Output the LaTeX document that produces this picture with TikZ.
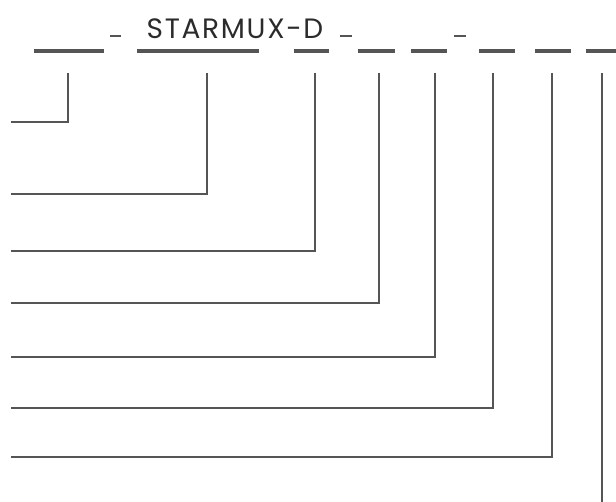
\documentclass[tikz,border=0pt]{standalone}
\usepackage{fontspec}
\setmainfont{Poppins}
\newfontfamily\titlefont{Poppins}[LetterSpace=6]
\definecolor{linegray}{HTML}{555555}
\definecolor{textgray}{HTML}{2B2B2B}
\begin{document}
\begin{tikzpicture}[x=0.75pt,y=-0.75pt,
  bar/.style={draw=linegray,line width=3pt},
  sep/.style={draw=linegray,line width=0.9pt},
  lead/.style={draw=linegray,line width=2.2pt}]
\useasboundingbox (0,0) rectangle (616,502);
\node[anchor=base,text=textgray,font=\titlefont\fontsize{21}{25}\selectfont,inner sep=0pt] (title) at (235,38.5) {STARMUX-D};
% top bars
\foreach \i/\a/\b in {1/34/104,2/137/259,3/294/329,4/358/395,5/411/447,6/479/515,7/535/571,8/586/616}{
  \coordinate (b\i l) at (\a,51);
  \coordinate (b\i r) at (\b,51);
  \draw[bar] (b\i l) -- (b\i r);
}
% separators
\foreach \i/\a/\b in {1/110/121,2/340/352,3/454/466}{
  \coordinate (s\i l) at (\a,36);
  \coordinate (s\i r) at (\b,36);
  \draw[sep] (s\i l) -- (s\i r);
}
% leader lines
\foreach \i/\x/\y in {1/68/122,2/207/194,3/315/251,4/379/303,5/435/357,6/493/408,7/552/457}{
  \coordinate (t\i) at (\x,73);
  \coordinate (c\i) at (\x,\y);
  \coordinate (e\i) at (11,\y);
  \draw[lead] (t\i) -- (c\i) -- (e\i);
}
\coordinate (t8) at (602,73);
\coordinate (e8) at (602,502);
\draw[lead] (t8) -- (e8);
\end{tikzpicture}
\end{document}
